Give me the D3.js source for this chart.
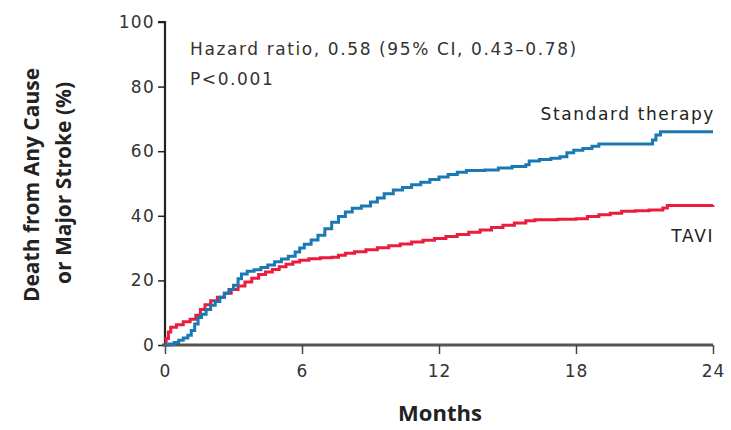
<!DOCTYPE html>
<html>
<head>
<meta charset="utf-8">
<script src="https://cdn.jsdelivr.net/npm/d3@7"></script>
<style>
  body { margin: 0; background: #fff; }
  text { font-family: "DejaVu Sans", sans-serif; }
</style>
</head>
<body>
<script>
// tick labels
let xTicks = [0, 6, 12, 18, 24];
let yTicks = [0, 20, 40, 60, 80, 100];

// Kaplan-Meier style curves: [month, percent]
let standardTherapy = [
    [0, 0], [0.2, 0.3], [0.4, 0.8], [0.6, 1.5], [0.8, 2.2], [1.0, 3], [1.15, 4.5], [1.3, 6.5],
    [1.45, 8.5], [1.6, 9.5], [1.8, 11], [2.0, 12.3], [2.2, 13.5], [2.4, 14.8], [2.6, 16],
    [2.8, 17.2], [3.0, 18.5], [3.2, 20.5], [3.35, 22], [3.6, 22.8], [3.9, 23.3], [4.2, 24],
    [4.5, 24.8], [4.8, 25.8], [5.1, 26.6], [5.4, 27.5], [5.7, 28.8], [5.9, 30], [6.1, 31.2],
    [6.4, 32.5], [6.7, 34], [7.0, 36], [7.3, 38], [7.6, 39.8], [7.9, 41.2], [8.2, 42.3],
    [8.6, 43], [9.0, 44.3], [9.3, 45.5], [9.6, 46.8], [10.0, 48], [10.4, 48.8], [10.8, 49.6],
    [11.2, 50.4], [11.6, 51.2], [12.0, 52], [12.4, 52.8], [12.8, 53.5], [13.2, 54], [14.0, 54.2],
    [14.6, 54.8], [15.2, 55.3], [15.8, 55.8], [15.95, 57], [16.4, 57.4], [16.9, 57.8],
    [17.3, 58.3], [17.6, 59.5], [17.9, 60.3], [18.3, 60.8], [18.7, 61.5], [19.0, 62.2],
    [21.2, 62.2], [21.35, 63.5], [21.5, 65], [21.7, 66], [24, 66]
];
let tavi = [
    [0, 0], [0.05, 2], [0.15, 4], [0.25, 5.5], [0.5, 6.3], [0.8, 7.2], [1.1, 8], [1.35, 9.2],
    [1.55, 11], [1.75, 12.5], [2.0, 13.7], [2.3, 14.8], [2.6, 16], [2.9, 17.2], [3.2, 18.3],
    [3.5, 19.5], [3.8, 20.7], [4.1, 21.8], [4.4, 22.6], [4.7, 23.4], [5.0, 24.2], [5.3, 25],
    [5.6, 25.7], [5.9, 26.2], [6.3, 26.7], [6.8, 27], [7.3, 27.2], [7.6, 27.8], [7.9, 28.4],
    [8.3, 28.9], [8.8, 29.5], [9.3, 30.1], [9.8, 30.7], [10.3, 31.3], [10.8, 31.9], [11.3, 32.4],
    [11.8, 33], [12.3, 33.6], [12.8, 34.2], [13.3, 34.9], [13.8, 35.6], [14.3, 36.4],
    [14.8, 37.1], [15.3, 37.8], [15.8, 38.5], [16.2, 38.8], [17.2, 38.9], [18.0, 39.1],
    [18.5, 39.8], [19.0, 40.3], [19.5, 40.8], [20.0, 41.4], [20.6, 41.6], [21.2, 41.8],
    [21.8, 42.4], [22.0, 43.2], [24, 43.3]
];

let margin = { top: 22, right: 18, bottom: 85, left: 165 };
let width = 731 - margin.left - margin.right;
let height = 430 - margin.top - margin.bottom;

let svg = d3.select("body").append("svg")
    .attr("width", 731)
    .attr("height", 430);
let g = svg.append("g")
    .attr("transform", "translate(" + margin.left + "," + margin.top + ")");

let xScale = d3.scaleLinear().domain([0, 24]).range([0, width]);
let yScale = d3.scaleLinear().domain([0, 100]).range([height, 0]);

// y axis
let yAxis = g.append("g")
    .call(d3.axisLeft(yScale).tickValues(yTicks).tickSize(7).tickPadding(3));
yAxis.select(".domain").attr("stroke", "#222").attr("stroke-width", 2.2)
    .attr("d", "M0," + height + "V0H-7");
yAxis.selectAll(".tick line").attr("stroke", "#222").attr("stroke-width", 1.5);
yAxis.selectAll(".tick text")
    .style("font-size", "17px").style("letter-spacing", "1.3px").attr("fill", "#333");

// x axis
let xAxis = g.append("g")
    .attr("transform", "translate(0," + height + ")")
    .call(d3.axisBottom(xScale).tickValues(xTicks).tickSize(9).tickPadding(11));
xAxis.select(".domain").attr("stroke", "#555").attr("stroke-width", 3)
    .attr("d", "M-3,0H" + width);
xAxis.selectAll(".tick line").attr("stroke", "#444").attr("stroke-width", 1.5);
xAxis.selectAll(".tick text")
    .style("font-size", "17px").style("letter-spacing", "1px").attr("fill", "#333");

// curves
let line = d3.line()
    .x((d) => xScale(d[0]))
    .y((d) => yScale(d[1]))
    .curve(d3.curveStepAfter);

g.append("path")
    .datum(tavi)
    .attr("fill", "none")
    .attr("stroke", "#ec1c3c")
    .attr("stroke-width", 3)
    .attr("d", line);

g.append("path")
    .datum(standardTherapy)
    .attr("fill", "none")
    .attr("stroke", "#1a78b4")
    .attr("stroke-width", 3)
    .attr("d", line);

// annotations
g.append("text")
    .attr("x", 25).attr("y", 33)
    .style("font-size", "17px").style("letter-spacing", "1.6px").attr("fill", "#333")
    .text("Hazard ratio, 0.58 (95% CI, 0.43–0.78)");
g.append("text")
    .attr("x", 25).attr("y", 63)
    .style("font-size", "17px").style("letter-spacing", "1.6px").attr("fill", "#333")
    .text("P<0.001");

g.append("text")
    .attr("x", width + 2).attr("y", 98)
    .attr("text-anchor", "end")
    .style("font-size", "17px").style("letter-spacing", "1.6px").attr("fill", "#222")
    .text("Standard therapy");
g.append("text")
    .attr("x", width + 1).attr("y", 220)
    .attr("text-anchor", "end")
    .style("font-size", "17px").style("letter-spacing", "1.6px").attr("fill", "#222")
    .text("TAVI");

// axis titles
svg.append("text")
    .attr("x", 440).attr("y", 421)
    .attr("text-anchor", "middle")
    .style("font-family", "'Open Sans', sans-serif")
    .style("font-size", "22px").style("font-weight", "bold").attr("fill", "#222")
    .text("Months");

svg.append("text")
    .attr("transform", "translate(39,185) rotate(-90)")
    .attr("text-anchor", "middle")
    .style("font-family", "'Open Sans', sans-serif")
    .style("font-size", "21px").style("font-weight", "bold").attr("fill", "#222")
    .text("Death from Any Cause");
svg.append("text")
    .attr("transform", "translate(71,183) rotate(-90)")
    .attr("text-anchor", "middle")
    .style("font-family", "'Open Sans', sans-serif")
    .style("font-size", "21px").style("font-weight", "bold").attr("fill", "#222")
    .text("or Major Stroke (%)");
</script>
</body>
</html>
